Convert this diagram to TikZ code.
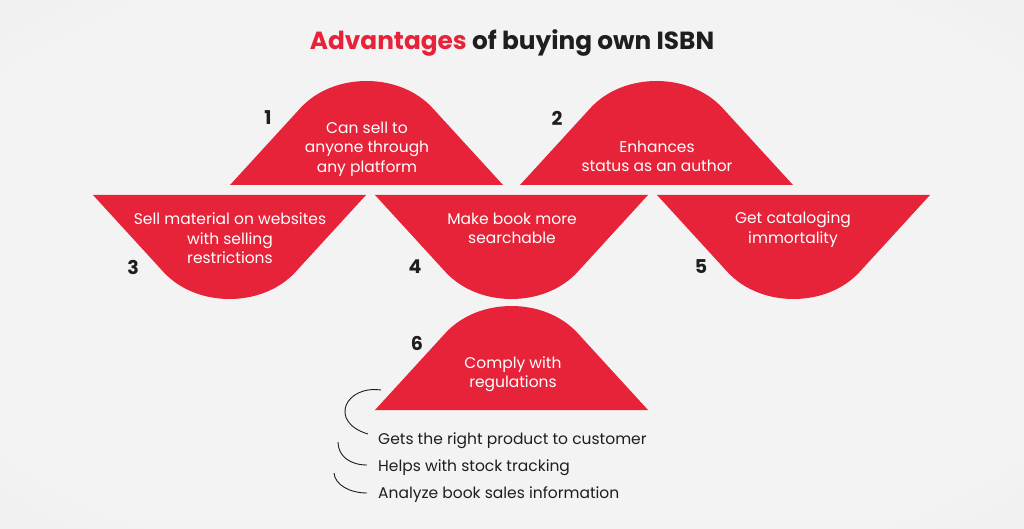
\documentclass[tikz,border=0pt]{standalone}
\usepackage{fontspec}
\setmainfont{Poppins}
\newfontfamily\titlefont{Poppins}
\definecolor{bellred}{HTML}{E62339}
\definecolor{ink}{HTML}{1E1E1E}
\definecolor{bgin}{HTML}{F3F3F3}
\definecolor{bgout}{HTML}{D9D9DB}
\pgfdeclareradialshading{bgshade}{\pgfpoint{0bp}{0bp}}{color(0bp)=(bgin); color(30bp)=(bgin); color(71bp)=(bgout)}
\tikzset{
  bellup/.pic={\fill[bellred] (-136.5,0) -- (-66,-77) .. controls (-33,-113) and (33,-113) .. (66,-77) -- (136.5,0) -- cycle;},
  belldown/.pic={\fill[bellred] (-136.5,0) -- (-66,77) .. controls (-33,113) and (33,113) .. (66,77) -- (136.5,0) -- cycle;},
  belltext/.style={text=white, align=center, font=\fontsize{15.5}{19.5}\selectfont, inner sep=0pt},
  numtext/.style={text=ink, font=\titlefont\bfseries\fontsize{19}{19}\selectfont, inner sep=0pt},
  listtext/.style={text=ink, anchor=west, font=\fontsize{15.5}{18}\selectfont, inner sep=0pt},
  arcline/.style={draw=ink, line width=0.9pt}
}
\begin{document}
\begin{tikzpicture}[x=1pt,y=-1pt]
\useasboundingbox (0,0) rectangle (1024,529);
\shade[shading=bgshade] (0,0) rectangle (1024,529);
% title
\node[inner sep=0pt, font=\titlefont\bfseries\fontsize{24.8}{24.8}\selectfont] (title) at (512,43) {\textcolor{bellred}{Advantages} \textcolor{ink}{of buying own ISBN}};
% bells
\pic (b1) at (366.5,185) {bellup};
\pic (b2) at (656.5,185) {bellup};
\pic (b3) at (229.5,195) {belldown};
\pic (b4) at (511.5,195) {belldown};
\pic (b5) at (793.5,195) {belldown};
\pic (b6) at (511.5,410) {bellup};
% texts
\node[belltext] (t1) at (367,149) {Can sell to\\anyone through\\any platform};
\node[belltext] (t2) at (657,156.5) {Enhances\\status as an author};
\node[belltext] (t3) at (230,238.5) {Sell material on websites\\with selling\\restrictions};
\node[belltext] (t4) at (512,228.5) {Make book more\\searchable};
\node[belltext] (t5) at (793,229.5) {Get cataloging\\immortality};
\node[belltext] (t6) at (513,374) {Comply with\\regulations};
% numbers
\node[numtext] (n1) at (268,118) {1};
\node[numtext] (n2) at (557,118) {2};
\node[numtext] (n3) at (133,267) {3};
\node[numtext] (n4) at (415,267) {4};
\node[numtext] (n5) at (701,267) {5};
\node[numtext] (n6) at (417,343) {6};
% list
\node[listtext] (l1) at (378,441) {Gets the right product to customer};
\node[listtext] (l2) at (378,468) {Helps with stock tracking};
\node[listtext] (l3) at (378,495) {Analyze book sales information};
\coordinate (a1) at (381,390);
\coordinate (a2) at (338,442);
\coordinate (a3) at (334,473);
\draw[arcline] (a1) .. controls (345,385) and (328,422) .. (368,434);
\draw[arcline] (a2) .. controls (338,456) and (350,465) .. (367,465);
\draw[arcline] (a3) .. controls (335,485) and (350,493) .. (367,493);
\end{tikzpicture}
\end{document}
